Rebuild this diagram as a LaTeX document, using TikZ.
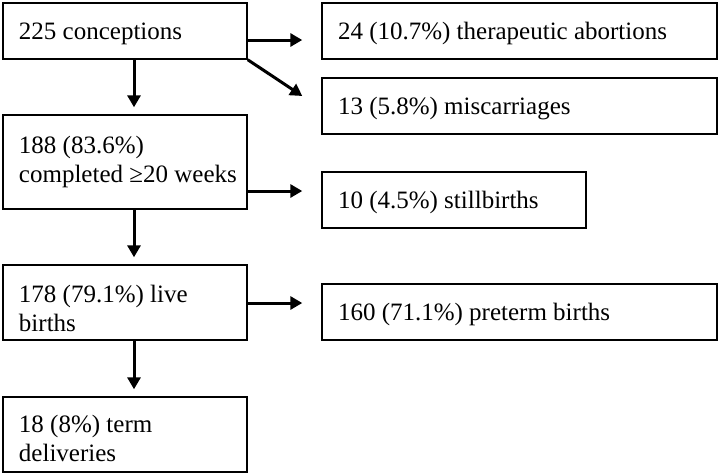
\documentclass[tikz,border=0pt]{standalone}
\usepackage{fontspec}
\setmainfont{Liberation Serif}
\usetikzlibrary{arrows.meta}
\begin{document}
\begin{tikzpicture}[x=1pt,y=1pt,
  box/.style={draw, line width=1.4pt, rectangle, inner xsep=16pt, inner ysep=0pt, align=flush left,
    font=\fontsize{25}{28.5}\selectfont},
  onel/.style={box, minimum height=56pt, text depth=0pt},
  arr/.style={line width=3pt, -{Triangle[length=12pt,width=13pt]}}]
\useasboundingbox (0,0) rectangle (720,-475);
\node[onel, text width=212pt] (c1) at (125,-31) {225 conceptions};
\node[onel, text width=363pt] (ab) at (519.5,-31) {24 (10.7\%) therapeutic abortions};
\node[onel, text width=363pt] (mc) at (519.5,-106) {13 (5.8\%) miscarriages};
\node[box, text width=212pt, minimum height=94pt] (w20) at (125,-162) {188 (83.6\%)\\\mbox{completed ≥20 weeks}};
\node[onel, text width=232pt] (sb) at (454,-200) {10 (4.5\%) stillbirths};
\node[box, text width=212pt, minimum height=75pt, text height=29pt] (lb) at (125,-302.5) {178 (79.1\%) live\\births};
\node[onel, text width=363pt] (pt) at (519.5,-312) {160 (71.1\%) preterm births};
\node[box, text width=212pt, minimum height=75pt, text height=25.5pt] (td) at (125,-434.5) {18 (8\%) term\\deliveries};
\draw[arr] ([yshift=-9pt]c1.east) -- ([xshift=-19pt,yshift=-9pt]ab.west);
\draw[arr] (c1.south east) -- ([xshift=-19pt,yshift=10pt]mc.west);
\draw[arr] ([xshift=9pt]c1.south) -- ([xshift=9pt,yshift=7pt]w20.north);
\draw[arr] ([yshift=-29pt]w20.east) -- ([xshift=-19pt,yshift=9pt]sb.west);
\draw[arr] ([xshift=9pt]w20.south) -- ([xshift=9pt,yshift=7pt]lb.north);
\draw[arr] ([yshift=-0.5pt]lb.east) -- ([xshift=-19pt,yshift=9pt]pt.west);
\draw[arr] ([xshift=9pt]lb.south) -- ([xshift=9pt,yshift=7pt]td.north);
\end{tikzpicture}
\end{document}
